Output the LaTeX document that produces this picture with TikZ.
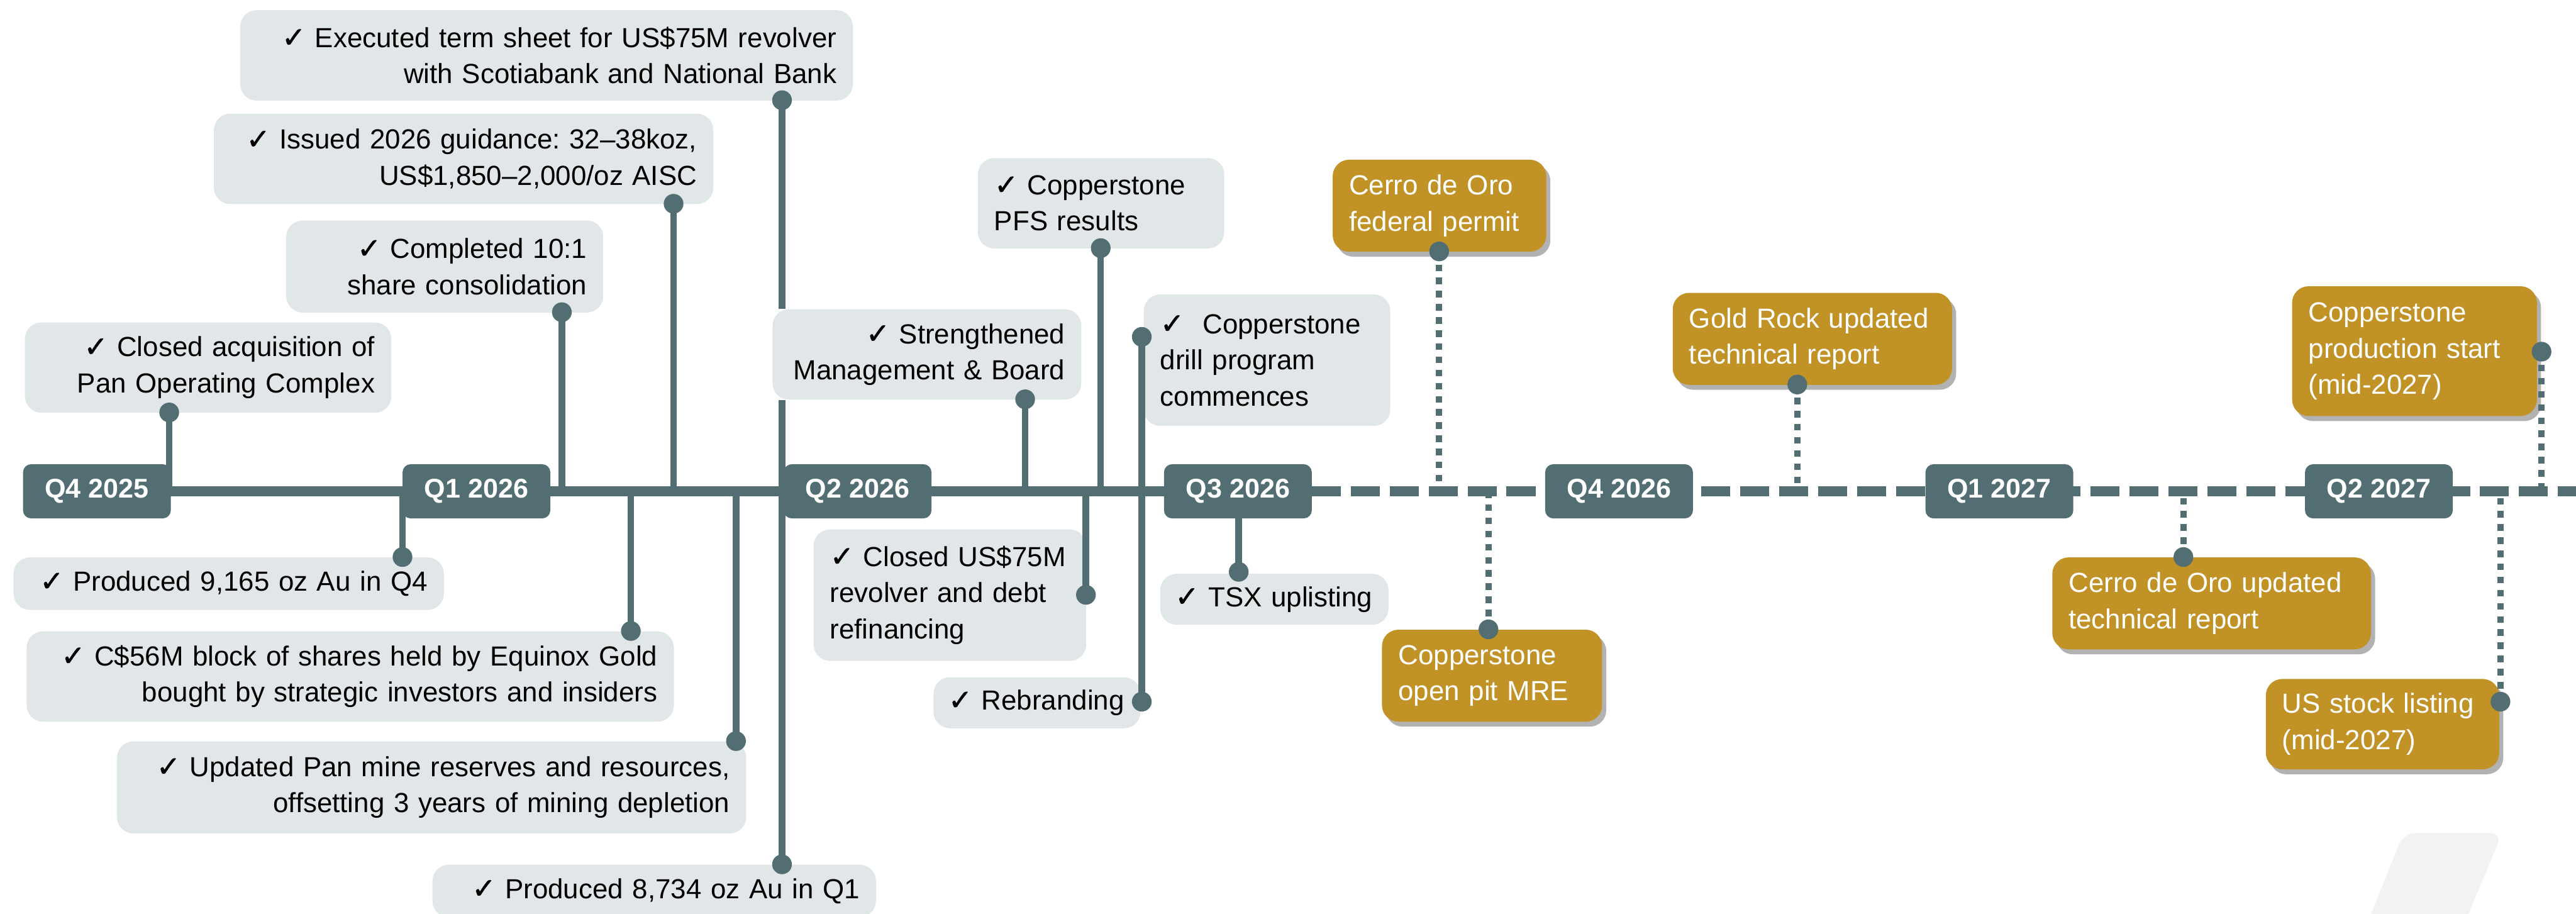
\documentclass[tikz,border=0pt]{standalone}
\usepackage{fontspec}
\setmainfont{Liberation Sans}
\newfontfamily\qfont{Liberation Sans}
\newfontfamily\symfont{DejaVu Sans}[FakeBold=1.2]
\usetikzlibrary{shadows}
\definecolor{slate}{HTML}{526E73}
\definecolor{boxgray}{HTML}{E1E6E8}
\definecolor{gold}{HTML}{C19327}
\definecolor{deco}{HTML}{F2F2F2}
\newcommand\chk{{\symfont\fontsize{17.5}{20}\selectfont ✓}}
\frenchspacing
\hyphenpenalty=10000
\tikzset{
  quarter/.style={fill=slate, rounded corners=5pt, minimum width=90pt, minimum height=33pt, inner sep=0pt, text=white, font=\qfont\bfseries\fontsize{16.5}{20}\selectfont},
  evbase/.style={rounded corners=10pt, inner xsep=10pt, inner ysep=0pt, anchor=north west, font=\fontsize{16.8}{22}\selectfont},
  evbox/.style={evbase, fill=boxgray, text=black},
  futbox/.style={evbase, fill=gold, text=white, align=left, drop shadow={shadow xshift=2.5pt, shadow yshift=-3pt, fill=black, opacity=0.3}},
  tline/.style={draw=slate, line width=6pt},
  stem/.style={draw=slate, line width=4pt},
  fstem/.style={draw=slate, line width=3.8pt, dash pattern=on 4pt off 4pt},
  pin/.style={circle, fill=slate, minimum size=12pt, inner sep=0pt},
}
\begin{document}
\begin{tikzpicture}[x=1pt,y=-1pt]
\useasboundingbox (0,0) rectangle (1568,556);
% decorative shape
\fill[deco, rounded corners=7pt] (1437,572) -- (1463,507) -- (1523,507) -- (1496,572) -- cycle;

% ---- event boxes (above) ----
\node[evbox, text width=353pt, minimum height=55pt, align=right] (eExec) at (146,6) {\chk\ Executed term sheet for US\$75M revolver\\with Scotiabank and National Bank};
\node[evbox, text width=284pt, minimum height=55pt, align=right] (eGuid) at (130,69) {\chk\ Issued 2026 guidance: 32--38koz,\\US\$1,850--2,000/oz AISC};
\node[evbox, text width=173pt, minimum height=56pt, align=right] (eCons) at (174,134) {\chk\ Completed 10:1\\share consolidation};
\node[evbox, text width=203pt, minimum height=55pt, align=right] (eAcq) at (15,196) {\chk\ Closed acquisition of\\Pan Operating Complex};
\node[evbox, text width=168pt, minimum height=55pt, align=right] (eMgmt) at (470,188) {\chk\ Strengthened\\Management \& Board};
\node[evbox, text width=130pt, minimum height=55pt, align=left] (ePFS) at (595,96) {\chk\ Copperstone\\PFS results};
\node[evbox, text width=130pt, minimum height=80pt, align=left] (eDrill) at (696,179) {\chk\ \ Copperstone\\drill program\\commences};
\node[futbox, text width=110pt, minimum height=56pt] (fPermit) at (811,97) {Cerro de Oro\\federal permit};
\node[futbox, text width=150pt, minimum height=56pt] (fGold) at (1018,178) {Gold Rock updated\\technical report};
\node[futbox, text width=129pt, minimum height=79pt] (fProd) at (1395,174) {Copperstone\\production start\\(mid-2027)};

% ---- event boxes (below) ----
\node[evbox, text width=242pt, minimum height=32pt, align=right] (eQ4) at (8,339) {\chk\ Produced 9,165 oz Au in Q4};
\node[evbox, text width=374pt, minimum height=55pt, align=right] (eBlock) at (16,384) {\chk\ C\$56M block of shares held by Equinox Gold\\bought by strategic investors and insiders};
\node[evbox, text width=363pt, minimum height=56pt, align=right] (eRes) at (71,451) {\chk\ Updated Pan mine reserves and resources,\\offsetting 3 years of mining depletion};
\node[evbox, text width=250pt, minimum height=32pt, align=right] (eQ1) at (263,526) {\chk\ Produced 8,734 oz Au in Q1};
\node[evbox, text width=146pt, minimum height=80pt, align=left] (eRev) at (495,322) {\chk\ Closed US\$75M\\revolver and debt\\refinancing};
\node[evbox, text width=108pt, inner xsep=9pt, minimum height=31pt, align=left] (eBrand) at (568,412) {\mbox{\chk\ Rebranding}};
\node[evbox, text width=121pt, inner xsep=9pt, minimum height=31pt, align=left] (eTSX) at (706,349) {\mbox{\chk\ TSX uplisting}};
\node[futbox, text width=114pt, minimum height=56pt] (fMRE) at (841,383) {Copperstone\\open pit MRE};
\node[futbox, text width=174pt, minimum height=56pt] (fTech) at (1249,339) {Cerro de Oro updated\\technical report};
\node[futbox, text width=122pt, minimum height=55pt] (fUS) at (1379,413) {US stock listing\\(mid-2027)};

% ---- coordinates ----
\coordinate (tl) at (0,299);
\coordinate (tend) at (1580,299);
\path (59,299) coordinate (c1) (290,299) coordinate (c2) (522,299) coordinate (c3)
      (753.5,299) coordinate (c4) (798.5,299) coordinate (c4e) (985.5,299) coordinate (c5)
      (1217,299) coordinate (c6) (1448,299) coordinate (c7);
\path (476,61) coordinate (pExec) (410,124) coordinate (pGuid) (342,190) coordinate (pCons)
      (103,251) coordinate (pAcq) (624,243) coordinate (pMgmt) (670,151) coordinate (pPFS)
      (695,205) coordinate (pDrill) (876,153) coordinate (pPermit) (1094,234) coordinate (pGold)
      (1547,214) coordinate (pProd)
      (245,339) coordinate (pQ4) (384,384) coordinate (pBlock) (448,451) coordinate (pRes)
      (476,526) coordinate (pQ1) (661,362) coordinate (pRev) (695,427) coordinate (pBrand)
      (754,348) coordinate (pTSX) (906,383) coordinate (pMRE) (1329,339) coordinate (pTech)
      (1522,427) coordinate (pUS);

% stems
\draw[stem] (pExec) -- (pExec |- eMgmt.north);
\draw[stem] (pExec |- eMgmt.south) -- (pQ1);
\foreach \p in {pGuid,pCons,pAcq,pMgmt,pPFS,pQ4,pBlock,pRes,pRev,pTSX}{
  \draw[stem] (\p) -- (\p |- tl);
}
\draw[stem] (pDrill) -- (pBrand);
\foreach \p in {pPermit,pGold,pProd,pMRE,pTech,pUS}{
  \draw[fstem] (\p) -- (\p |- tl);
}
% timeline
\draw[tline] (c1) -- (c4);
\draw[tline, dash pattern=on 17.7pt off 6pt] (c4e) -- (tend);
% quarter labels
\node[quarter] (q1) at (c1) {Q4 2025};
\node[quarter] (q2) at (c2) {Q1 2026};
\node[quarter] (q3) at (c3) {Q2 2026};
\node[quarter] (q4) at (c4) {Q3 2026};
\node[quarter] (q5) at (c5) {Q4 2026};
\node[quarter] (q6) at (c6) {Q1 2027};
\node[quarter] (q7) at (c7) {Q2 2027};
% pin heads
\foreach \p in {pExec,pGuid,pCons,pAcq,pMgmt,pPFS,pDrill,pPermit,pGold,pProd,pQ4,pBlock,pRes,pQ1,pRev,pBrand,pTSX,pMRE,pTech,pUS}{
  \node[pin] at (\p) {};
}
\end{tikzpicture}
\end{document}
